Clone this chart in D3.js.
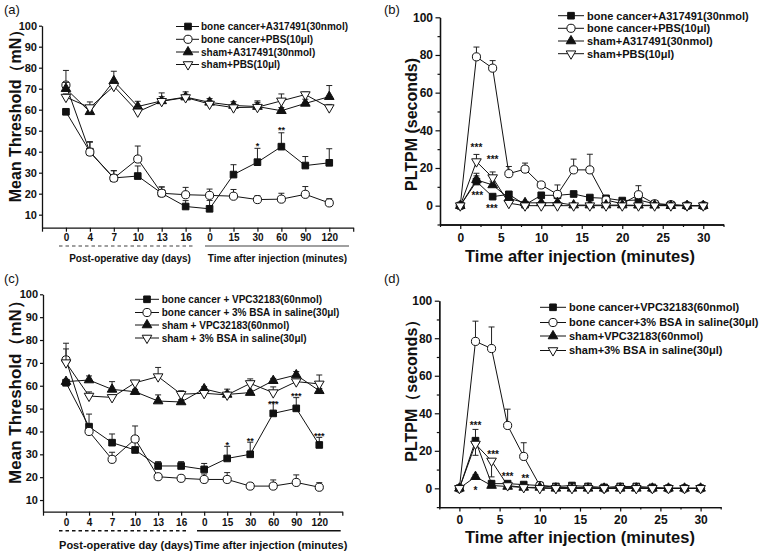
<!DOCTYPE html>
<html><head><meta charset="utf-8">
<script src="https://cdn.jsdelivr.net/npm/d3@7"></script>
<style>body{margin:0;background:#fff}svg{display:block}text{font-family:Arial,"Liberation Sans",sans-serif;fill:#111}</style>
</head><body><svg id="c" width="760" height="555"></svg>
<script>
// ---------- shared categories ----------
const catLabels = ["0","4","7","10","13","16","0","15","30","60","90","120"];
const catIndex = d3.range(12);
const times = d3.range(0, 31, 2);

// ---------- panel (a) ----------
const aNames = ["bone cancer+A317491(30nmol)","bone cancer+PBS(10μl)","sham+A317491(30nmol)","sham+PBS(10μl)"];
const aBcA = [59, 40, 27.5, 28.4, 20.2, 13.9, 12.8, 29.1, 35, 42.4, 33.4, 34.7];
const aBcAErr = [1, 4.5, 3.5, 4.8, 3, 2.8, 4, 4.7, 6.6, 6.6, 4.3, 6.7];
const aBcP = [71.7, 39.8, 27.4, 36.5, 20.2, 19.5, 19.2, 18.8, 17.2, 17.4, 19.7, 15.6];
const aBcPErr = [7, 5, 3.5, 6.2, 3, 3.5, 3, 3.2, 1.8, 2.8, 3.7, 2];
const aShA = [70, 59, 73.7, 61.5, 64.2, 66, 63.5, 62, 61.5, 59.5, 63, 66.2];
const aShAErr = [3, 2, 4.6, 2.5, 2, 2.5, 1.8, 1.8, 2, 1.5, 2, 5.3];
const aShP = [66, 61, 71.2, 59, 64, 65.8, 62.7, 61, 61.2, 64.2, 67.2, 61];
const aShPErr = [1.5, 2.7, 2.5, 2, 4, 1.5, 1.5, 1.5, 3, 3.3, 1.2, 1.5];
const aSig = [{x: 8, v: 44, t: "*"}, {x: 9, v: 51.6, t: "**"}];

// ---------- panel (b) ----------
const bNames = ["bone cancer+A317491(30nmol)","bone cancer+PBS(10μl)","sham+A317491(30nmol)","sham+PBS(10μl)"];
const bBcA = [0, 12.8, 4.8, 6, 0.5, 5.5, 5.5, 6.2, 4.3, 3.9, 2.7, 3, 1, 0.5, 0, 0];
const bBcAErr = [0, 3, 1, 1.5, 0.5, 1, 1, 1, 1, 1, 0.5, 0.5, 0.5, 0.3, 0, 0];
const bBcP = [0, 79, 73, 17, 19.4, 11, 6, 19, 19, 3, 1, 5.8, 1, 0.5, 0, 0];
const bBcPErr = [0, 5.2, 4, 3.8, 3.2, 1, 5, 5.7, 8.3, 1, 0.5, 4.8, 0.5, 0.5, 0, 0];
const bShA = [0, 13.7, 11, 3.9, 1.5, 1.5, 1.6, 0.3, 0.3, 0.3, 0.3, 0.2, 0.2, 0, 0, 0];
const bShAErr = [0, 3.5, 2, 1, 0.5, 0.5, 0.5, 0, 0, 0, 0, 0, 0, 0, 0, 0];
const bShP = [0, 23.4, 14.9, 1.3, 0, 0, 0, 0, 0, 0, 0, 0, 0, 0, 0, 0];
const bShPErr = [0, 3.8, 3, 0.5, 0, 0, 0, 0, 0, 0, 0, 0, 0, 0, 0, 0];
const bSig = [{x: 2, v: 32.3, t: "***"}, {x: 2.1, v: 6.6, t: "***"}, {x: 4, v: 25.7, t: "***"}, {x: 3.9, v: -0.5, t: "***"}];

// ---------- panel (c) ----------
const cNames = ["bone cancer + VPC32183(60nmol)","bone cancer + 3% BSA in saline(30μl)","sham + VPC32183(60nmol)","sham + 3% BSA in saline(30μl)"];
const cBcV = [61.3, 42.1, 35.1, 31.9, 24.9, 24.9, 23.4, 28.2, 30, 47.9, 50.1, 34.1];
const cBcVErr = [1, 5.5, 3.8, 4, 1.9, 1.9, 2.6, 5.3, 5.3, 4.9, 4.7, 3.3];
const cBcB = [71.3, 40, 27.8, 36.7, 20.2, 19.5, 19, 19, 16.1, 16.1, 17.7, 15.6];
const cBcBErr = [7.3, 2, 3.1, 5.7, 1, 1, 2.4, 3, 1, 2.7, 3.3, 2];
const cShV = [61.8, 62.5, 58.4, 57.4, 53.3, 52.9, 58.6, 56.2, 57, 62.2, 64.7, 57.8];
const cShVErr = [1, 1.8, 3.4, 1, 2.7, 1, 1, 1, 1, 1, 1.5, 1];
const cShB = [70.1, 55.5, 54.9, 61.3, 64, 56.3, 56.7, 56, 61, 57, 61.8, 60.8];
const cShBErr = [6, 1.8, 1, 1, 4, 1.5, 1, 2.5, 2, 2.5, 1, 3.9];
const cSig = [{x: 7, v: 35.2, t: "*"}, {x: 8, v: 37, t: "**"}, {x: 9, v: 53, t: "***"}, {x: 10, v: 56.3, t: "***"}, {x: 11, v: 39.2, t: "***"}];

// ---------- panel (d) ----------
const dNames = ["bone cancer+VPC32183(60nmol)","bone cancer+3% BSA in saline(30μl)","sham+VPC32183(60nmol)","sham+3% BSA in saline(30μl)"];
const dBcV = [0, 25.4, 2.5, 2.5, 2, 1.5, 1, 1.5, 1, 0.5, 1, 1, 0.5, 0, 0, 0];
const dBcVErr = [0, 6, 1, 1, 1, 0.5, 0.5, 0.5, 0.5, 0, 0.5, 0.5, 0, 0, 0, 0];
const dBcB = [0, 78.3, 74.5, 33.5, 17, 1.5, 0.5, 0.5, 0.5, 0, 0.5, 0.5, 0, 0, 0, 0];
const dBcBErr = [0, 10.8, 11.5, 8.7, 7.3, 0.5, 0, 0, 0, 0, 0, 0, 0, 0, 0, 0];
const dShV = [0, 6.2, 1.5, 1, 0.5, 0.5, 0, 0, 0, 0, 0, 0, 0, 0, 0, 0];
const dShVErr = [0, 1, 0.5, 0.5, 0, 0, 0, 0, 0, 0, 0, 0, 0, 0, 0, 0];
const dShB = [0, 23.6, 14.6, 1.5, 0.5, 0, 0, 0, 0, 0, 0, 0, 0, 0, 0, 0];
const dShBErr = [0, -6, -8.5, -1, 0, 0, 0, 0, 0, 0, 0, 0, 0, 0, 0, 0];
const dSig = [{x: 2, v: 34.6, t: "***"}, {x: 2, v: 0.3, t: "*"}, {x: 4.2, v: 19.5, t: "***"}, {x: 6, v: 7.6, t: "***"}, {x: 8.2, v: 6.5, t: "**"}];

const svg = d3.select("#c");
const INK = "#111";

const markerDefs = {
  sq: {type: d3.symbolSquare, size: 44, fill: INK, rot: 0},
  ci: {type: d3.symbolCircle, size: 52, fill: "#fff", rot: 0},
  tu: {type: d3.symbolTriangle, size: 40, fill: INK, rot: 0},
  td: {type: d3.symbolTriangle, size: 40, fill: "#fff", rot: 180}
};
const markerOrder = ["sq", "ci", "tu", "td"];

function drawMarker(g, kind, cx, cy) {
  const m = markerDefs[kind];
  g.append("path")
    .attr("d", d3.symbol(m.type, m.size)())
    .attr("transform", `translate(${cx},${cy}) rotate(${m.rot})`)
    .attr("fill", m.fill).attr("stroke", INK).attr("stroke-width", 1);
}

function drawSeries(g, x, y, xs, vals, errs, kind) {
  const s = g.append("g");
  vals.forEach((v, i) => {
    const e = errs[i];
    if (!e) return;
    const px = x(xs[i]);
    const y1 = y(v + e);
    s.append("line").attr("x1", px).attr("x2", px).attr("y1", y(v)).attr("y2", y1)
      .attr("stroke", "#222").attr("stroke-width", 1);
    s.append("line").attr("x1", px - 3).attr("x2", px + 3).attr("y1", y1).attr("y2", y1)
      .attr("stroke", "#222").attr("stroke-width", 1);
  });
  s.append("path").datum(vals)
    .attr("d", d3.line().x((d, i) => x(xs[i])).y(d => y(d)))
    .attr("fill", "none").attr("stroke", INK).attr("stroke-width", 1);
  vals.forEach((v, i) => drawMarker(s, kind, x(xs[i]), y(v)));
}

function drawLegend(g, names, x0, x1, xm, xt, rows, fs) {
  names.forEach((n, i) => {
    const yy = rows[i];
    g.append("line").attr("x1", x0).attr("x2", x1).attr("y1", yy).attr("y2", yy)
      .attr("stroke", INK).attr("stroke-width", 1);
    drawMarker(g, markerOrder[i], xm, yy);
    g.append("text").attr("x", xt).attr("y", yy).attr("dy", "0.36em")
      .attr("font-size", fs).attr("font-weight", "bold").text(n);
  });
}

function styleAxis(ax, fs) {
  ax.select(".domain").attr("stroke", INK).attr("stroke-width", 1.3);
  ax.selectAll(".tick line").attr("stroke", INK).attr("stroke-width", 1.2);
  ax.selectAll("text").attr("font-size", fs).attr("font-weight", "bold")
    .attr("font-family", "Arial, 'Liberation Sans', sans-serif").attr("fill", INK);
}

function drawSig(g, x, y, list, fs) {
  list.forEach(s => {
    g.append("text").attr("x", x(s.x)).attr("y", y(s.v) + fs * 0.58)
      .attr("text-anchor", "middle").attr("font-size", fs).attr("font-weight", "bold").text(s.t);
  });
}

function yTitle(g, cx, cy, txt, fs) {
  g.append("text").attr("transform", `translate(${cx},${cy}) rotate(-90)`)
    .attr("text-anchor", "middle").attr("dy", "0.36em")
    .attr("font-size", fs).attr("font-weight", "bold").text(txt);
}

function panelLabel(x0, y0, t) {
  svg.append("text").attr("x", x0).attr("y", y0).attr("font-size", 13).text(t);
}

// ---------- category panels (a) & (c) ----------
function catPanel(o) {
  const g = svg.append("g");
  const x = d3.scaleLinear().domain([-1, 12]).range([o.x0, o.x1]);
  const y = d3.scaleLinear().domain([o.ymin, 100]).range([o.yb, o.yt]);
  const ax = g.append("g").attr("transform", `translate(0,${o.yb})`)
    .call(d3.axisBottom(x).tickValues(d3.range(-1, 13))
      .tickFormat(i => (i >= 0 && i < 12) ? catLabels[i] : "")
      .tickSize(4).tickSizeOuter(0).tickPadding(o.xpad));
  styleAxis(ax, o.xfs);
  const ay = g.append("g").attr("transform", `translate(${o.x0},0)`)
    .call(d3.axisLeft(y).tickValues(d3.range(10, 101, 10)).tickSize(3).tickSizeOuter(0).tickPadding(2));
  styleAxis(ay, o.yfs);
  o.series.forEach((s, i) => drawSeries(g, x, y, catIndex, s[0], s[1], markerOrder[i]));
  drawSig(g, x, y, o.sig, 9);
  // group bars under axis
  g.append("line").attr("x1", o.dash[0]).attr("x2", o.dash[1]).attr("y1", o.barY).attr("y2", o.barY)
    .attr("stroke", o.barColor).attr("stroke-width", 1.5).attr("stroke-dasharray", "3.5,3");
  g.append("line").attr("x1", o.solid[0]).attr("x2", o.solid[1]).attr("y1", o.barY).attr("y2", o.barY)
    .attr("stroke", o.barColor).attr("stroke-width", 1.5);
  g.append("text").attr("x", o.lab1X).attr("y", o.labY).attr("text-anchor", "middle")
    .attr("font-size", o.labFs).attr("font-weight", "bold").text("Post-operative day (days)");
  g.append("text").attr("x", o.lab2X).attr("y", o.labY).attr("text-anchor", "middle")
    .attr("font-size", o.labFs).attr("font-weight", "bold").text("Time after injection (minutes)");
  yTitle(g, o.ytx, o.yty, "Mean Threshold（mN）", o.ytfs);
  drawLegend(g, o.names, o.leg[0], o.leg[1], o.leg[2], o.leg[3], o.legRows, 10);
}

catPanel({
  x0: 42, x1: 353.2, yb: 227.7, yt: 25.7, ymin: 3.8, xpad: 2, xfs: 10, yfs: 11,
  series: [[aBcA, aBcAErr], [aBcP, aBcPErr], [aShA, aShAErr], [aShP, aShPErr]],
  sig: aSig, dash: [59, 193], solid: [205, 349], barY: 246, barColor: "#808080",
  lab1X: 130, lab2X: 277.5, labY: 261.8, labFs: 10,
  ytx: 15, yty: 112, ytfs: 16,
  names: aNames, leg: [176, 199, 188, 201], legRows: [26.5, 39.3, 52, 64.5]
});
catPanel({
  x0: 43, x1: 342.3, yb: 511.7, yt: 294.3, ymin: 4.9, xpad: 3, xfs: 10, yfs: 11,
  series: [[cBcV, cBcVErr], [cBcB, cBcBErr], [cShV, cShVErr], [cShB, cShBErr]],
  sig: cSig, dash: [59, 188], solid: [197, 340.7], barY: 530.7, barColor: "#111",
  lab1X: 126, lab2X: 270.7, labY: 549, labFs: 11,
  ytx: 15, yty: 388, ytfs: 17,
  names: cNames, leg: [135, 159, 147, 161.7], legRows: [299.3, 312.5, 325, 338]
});

// ---------- time panels (b) & (d) ----------
function timePanel(o) {
  const g = svg.append("g");
  const x = d3.scaleLinear().domain([-2.5, 32.5]).range([o.x0, o.x1]);
  const y = d3.scaleLinear().domain([-10, 100]).range([o.yb, o.yt]);
  const ax = g.append("g").attr("transform", `translate(0,${o.yb})`)
    .call(d3.axisBottom(x).tickValues(d3.range(0, 31, 5)).tickSize(4.5).tickSizeOuter(0).tickPadding(o.xpad));
  styleAxis(ax, 12);
  const axm = g.append("g").attr("transform", `translate(0,${o.yb})`)
    .call(d3.axisBottom(x).tickValues(d3.range(-2.5, 33, 5)).tickFormat("").tickSize(2.5).tickSizeOuter(0));
  styleAxis(axm, 12);
  const ay = g.append("g").attr("transform", `translate(${o.x0},0)`)
    .call(d3.axisLeft(y).tickValues(d3.range(0, 101, 20)).tickSize(4.5).tickSizeOuter(0).tickPadding(2.5));
  styleAxis(ay, 12);
  const aym = g.append("g").attr("transform", `translate(${o.x0},0)`)
    .call(d3.axisLeft(y).tickValues(d3.range(-10, 100, 20)).tickFormat("").tickSize(2.5).tickSizeOuter(0));
  styleAxis(aym, 12);
  o.series.forEach((s, i) => drawSeries(g, x, y, times, s[0], s[1], markerOrder[i]));
  drawSig(g, x, y, o.sig, 10);
  g.append("text").attr("x", 580).attr("y", o.xtY).attr("text-anchor", "middle")
    .attr("font-size", 16.5).attr("font-weight", "bold").text("Time after injection (minutes)");
  yTitle(g, 411.7, o.yty, o.ytitle, 16);
  drawLegend(g, o.names, o.leg[0], o.leg[1], o.leg[2], o.leg[3], o.legRows, 11);
}

timePanel({
  x0: 440, x1: 723.5, yb: 224.5, yt: 17.3, xpad: 4.5,
  series: [[bBcA, bBcAErr], [bBcP, bBcPErr], [bShA, bShAErr], [bShP, bShPErr]],
  sig: bSig, xtY: 261.5, yty: 124.5, ytitle: "PLTPM (seconds)",
  names: bNames, leg: [558, 584, 571, 587], legRows: [15.7, 28.3, 41, 53.7]
});
timePanel({
  x0: 439.3, x1: 720.7, yb: 507.1, yt: 300.7, xpad: 4,
  series: [[dBcV, dBcVErr], [dBcB, dBcBErr], [dShV, dShVErr], [dShB, dShBErr]],
  sig: dSig, xtY: 542.5, yty: 386.7, ytitle: "PLTPM（seconds）",
  names: dNames, leg: [540, 566, 553, 569], legRows: [307.3, 322.5, 336, 350.5]
});

panelLabel(4, 14, "(a)");
panelLabel(384, 14, "(b)");
panelLabel(4, 283, "(c)");
panelLabel(384, 283, "(d)");
</script></body></html>
